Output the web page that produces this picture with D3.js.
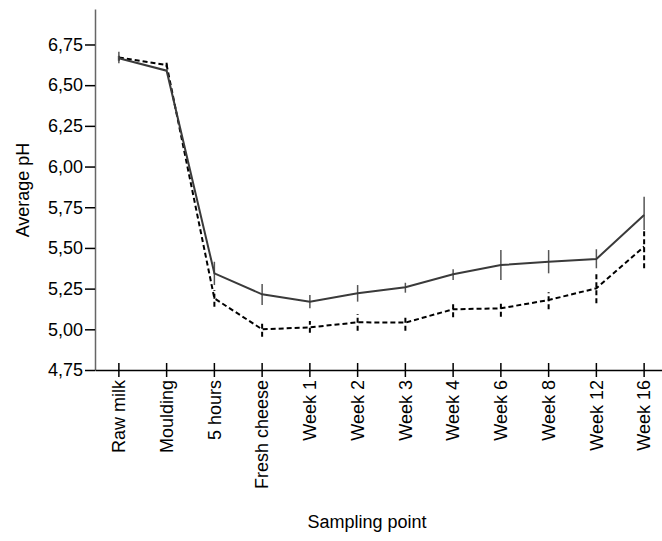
<!DOCTYPE html>
<html>
<head>
<meta charset="utf-8">
<script src="https://cdn.jsdelivr.net/npm/d3@7"></script>
<style>
  body { margin: 0; background: #fff; }
  text { font-family: "Liberation Sans", Arial, sans-serif; }
</style>
</head>
<body>
<div id="chart"></div>
<script>
// sampling points along the x axis
const samplingPoints = ["Raw milk", "Moulding", "5 hours", "Fresh cheese", "Week 1", "Week 2",
  "Week 3", "Week 4", "Week 6", "Week 8", "Week 12", "Week 16"];

// solid series: mean pH and error bar low/high
const solidMean = [6.665, 6.589, 5.344, 5.215, 5.170, 5.221, 5.258, 5.338, 5.395, 5.415, 5.432, 5.702];
const solidLow  = [6.634, 6.580, 5.272, 5.150, 5.129, 5.170, 5.225, 5.303, 5.303, 5.344, 5.375, 5.610];
const solidHigh = [6.706, 6.598, 5.415, 5.278, 5.211, 5.272, 5.286, 5.369, 5.487, 5.487, 5.492, 5.815];

// dashed series
const dashedMean = [6.670, 6.624, 5.190, 5.000, 5.012, 5.043, 5.041, 5.123, 5.129, 5.180, 5.252, 5.508];
const dashedLow  = [6.650, 6.610, 5.139, 4.955, 4.979, 4.991, 4.991, 5.074, 5.077, 5.123, 5.160, 5.375];
const dashedHigh = [6.690, 6.638, 5.242, 5.047, 5.051, 5.094, 5.088, 5.170, 5.174, 5.227, 5.344, 5.610];

const yTicks = [4.75, 5.00, 5.25, 5.50, 5.75, 6.00, 6.25, 6.50, 6.75];

const width = 662, height = 541;
const margin = { top: 9, left: 95, bottom: 171 };
const fontSize = 18;

const svg = d3.select("#chart").append("svg")
  .attr("width", width)
  .attr("height", height);

const x = d3.scaleBand()
  .domain(samplingPoints)
  .range([margin.left, margin.left + 12 * 47.75]);

const y = d3.scaleLinear()
  .domain([4.75, 6.968])
  .range([height - margin.bottom, margin.top]);

const cx = d => x(d) + x.bandwidth() / 2;
const fmt = v => d3.format(".2f")(v).replace(".", ",");

// y axis
const yAxis = svg.append("g")
  .attr("transform", `translate(${margin.left},0)`)
  .call(d3.axisLeft(y).tickValues(yTicks).tickFormat(fmt).tickSize(10).tickSizeOuter(0));
yAxis.select(".domain").attr("stroke", "#666").attr("stroke-width", 1.5);
yAxis.selectAll(".tick line").attr("stroke", "#000").attr("stroke-width", 1.5);
yAxis.selectAll(".tick text").attr("font-size", fontSize).attr("fill", "#000").attr("x", -12);

// x axis
const xAxis = svg.append("g")
  .attr("transform", `translate(0,${y(4.75)})`)
  .call(d3.axisBottom(x).tickSize(7).tickSizeOuter(0));
xAxis.select(".domain").attr("stroke", "#000").attr("stroke-width", 1.5);
xAxis.selectAll(".tick line").attr("y1", -7).attr("stroke", "#000").attr("stroke-width", 1.5);
xAxis.selectAll(".tick text")
  .attr("font-size", fontSize)
  .attr("fill", "#000")
  .attr("transform", "rotate(-90)")
  .attr("x", -10)
  .attr("y", 0)
  .attr("dy", "0.35em")
  .style("text-anchor", "end");

// axis titles
svg.append("text")
  .attr("transform", `translate(29,190) rotate(-90)`)
  .attr("text-anchor", "middle")
  .attr("font-size", fontSize)
  .text("Average pH");

svg.append("text")
  .attr("x", 367)
  .attr("y", 528)
  .attr("text-anchor", "middle")
  .attr("font-size", fontSize)
  .text("Sampling point");

const line = d3.line()
  .x((d, i) => cx(samplingPoints[i]))
  .y(d => y(d));

// dashed series
svg.append("g").selectAll("line")
  .data(samplingPoints)
  .join("line")
  .attr("x1", d => cx(d)).attr("x2", d => cx(d))
  .attr("y1", (d, i) => y(dashedLow[i]))
  .attr("y2", (d, i) => y(dashedHigh[i]))
  .attr("stroke", "#000")
  .attr("stroke-width", 2)
  .attr("stroke-dasharray", "5,3");

svg.append("path")
  .datum(dashedMean)
  .attr("d", line)
  .attr("fill", "none")
  .attr("stroke", "#000")
  .attr("stroke-width", 2)
  .attr("stroke-dasharray", "5,3");

// solid series
svg.append("g").selectAll("line")
  .data(samplingPoints)
  .join("line")
  .attr("x1", d => cx(d)).attr("x2", d => cx(d))
  .attr("y1", (d, i) => y(solidLow[i]))
  .attr("y2", (d, i) => y(solidHigh[i]))
  .attr("stroke", "#555")
  .attr("stroke-width", 1.5);

svg.append("path")
  .datum(solidMean)
  .attr("d", line)
  .attr("fill", "none")
  .attr("stroke", "#3a3a3a")
  .attr("stroke-width", 2);
</script>
</body>
</html>
